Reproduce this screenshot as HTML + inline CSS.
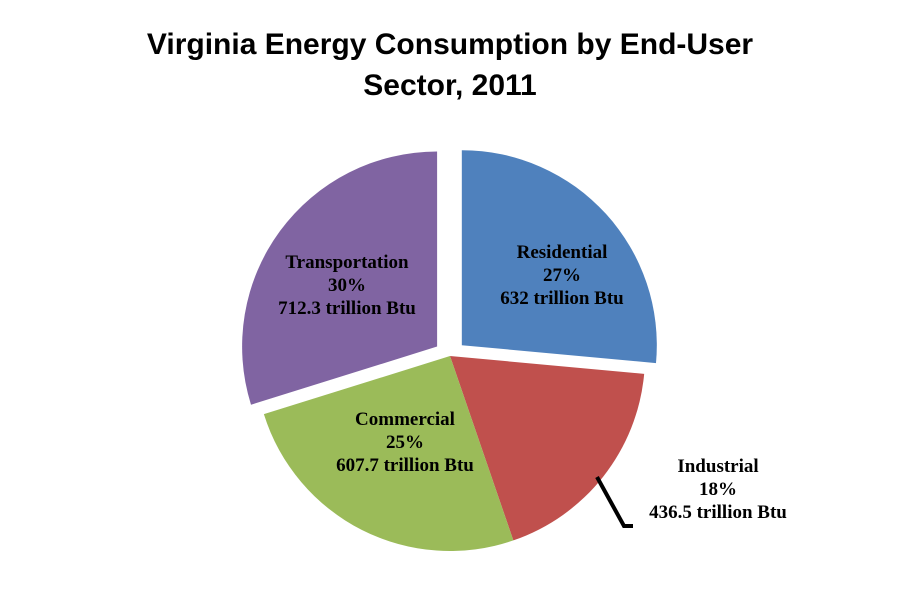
<!DOCTYPE html>
<html><head><meta charset="utf-8"><style>
html,body{margin:0;padding:0;background:#fff;}
svg{display:block;}
</style></head><body>
<svg id="chart" width="900" height="599" viewBox="0 0 900 599" xmlns="http://www.w3.org/2000/svg">
<text x="450" y="54" text-anchor="middle" font-family="Liberation Sans, sans-serif" font-weight="bold" font-size="30" fill="#000">Virginia Energy Consumption by End-User</text>
<text x="450" y="95" text-anchor="middle" font-family="Liberation Sans, sans-serif" font-weight="bold" font-size="30" fill="#000">Sector, 2011</text>
<g id="slices"></g>
<g id="labels" font-family="Liberation Serif, serif" font-weight="bold" font-size="19" fill="#000" text-anchor="middle"></g>
<polyline points="597,477 624,526 633,526" fill="none" stroke="#000" stroke-width="4"/>
</svg>
<script>
const categories = ["Residential","Industrial","Commercial","Transportation"];
const values = [632, 436.5, 607.7, 712.3];
const percents = ["27%","18%","25%","30%"];
const valueLabels = ["632 trillion  Btu","436.5 trillion  Btu","607.7 trillion  Btu","712.3 trillion  Btu"];
const colors = ["#4f81bd","#c0504d","#9bbb59","#8064a2"];
const explode = [16, 0, 0, 16];
const labelPos = [[562,258],[718,472],[405,425],[347,268]];
const cx = 450, cy = 356, r = 195;
const total = values.reduce((a,b)=>a+b,0);
const ns = "http://www.w3.org/2000/svg";
const g = document.getElementById("slices");
const lg = document.getElementById("labels");
function pt(a, rr, ox, oy){ return [ox + rr*Math.sin(a), oy - rr*Math.cos(a)]; }
let start = 0;
values.forEach((v,i)=>{
  const sweep = v/total*2*Math.PI;
  const mid = start + sweep/2;
  const ox = cx + explode[i]*Math.sin(mid), oy = cy - explode[i]*Math.cos(mid);
  const p1 = pt(start, r, ox, oy), p2 = pt(start+sweep, r, ox, oy);
  const path = document.createElementNS(ns,"path");
  path.setAttribute("d", `M${ox},${oy} L${p1[0]},${p1[1]} A${r},${r} 0 ${sweep>Math.PI?1:0} 1 ${p2[0]},${p2[1]} Z`);
  path.setAttribute("fill", colors[i]);
  
  
  g.appendChild(path);
  start += sweep;
  const lines = [categories[i], percents[i], valueLabels[i]];
  const t = document.createElementNS(ns,"text");
  
  
  lines.forEach((s,k)=>{
    const ts = document.createElementNS(ns,"tspan");
    ts.setAttribute("x", labelPos[i][0]);
    ts.setAttribute("y", labelPos[i][1] + k*23);
    ts.setAttribute("xml:space","preserve");
    ts.textContent = s;
    t.appendChild(ts);
  });
  lg.appendChild(t);
});
</script>
</body></html>
